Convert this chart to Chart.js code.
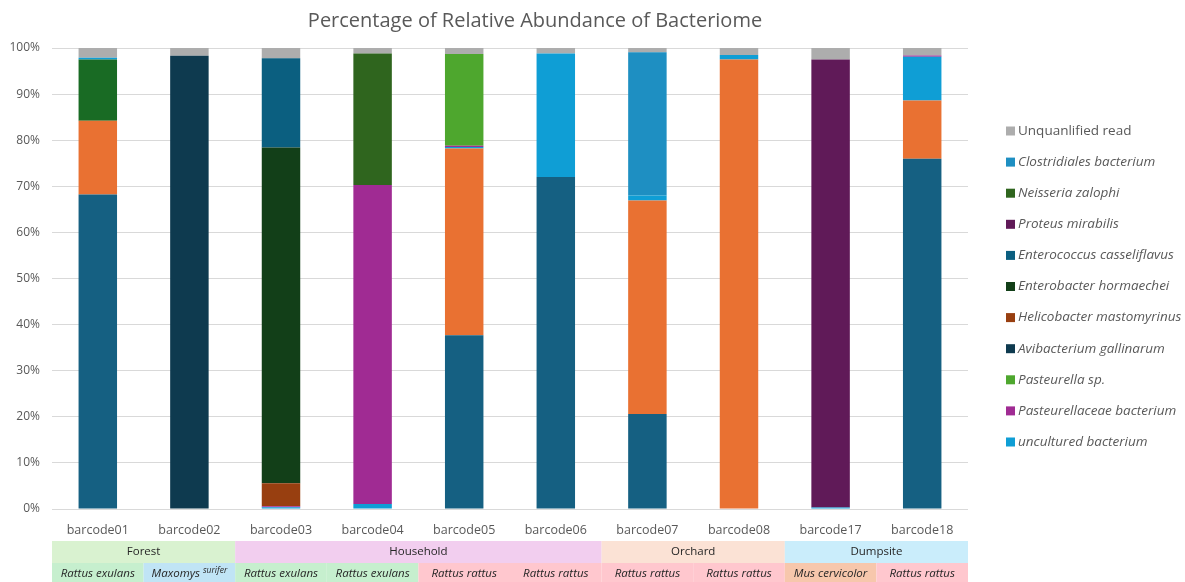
<!DOCTYPE html>
<html>
<head>
<meta charset="utf-8">
<script src="https://cdn.jsdelivr.net/npm/chart.js@4.4.1/dist/chart.umd.min.js"></script>
<style>
  html, body { margin: 0; padding: 0; background: #fff; }
  #wrap { width: 1185px; height: 582px; position: relative; }
</style>
</head>
<body>
<div id="wrap"><canvas id="abundance-chart"></canvas></div>
<script>
const barcodes = ['barcode01', 'barcode02', 'barcode03', 'barcode04', 'barcode05',
                  'barcode06', 'barcode07', 'barcode08', 'barcode17', 'barcode18'];

// series, stacked from the bottom up (first three are cut off from the legend)
const taxonA = [68.2, 0, 0, 0, 37.7, 72.0, 20.6, 0, 0, 76.0];
const taxonB = [16.0, 0, 0, 0, 40.5, 0, 46.3, 97.5, 0, 12.6];
const taxonC = [13.3, 0, 0, 0, 0, 0, 0, 0, 0, 0];
const uncultured = [0.4, 0, 0.4, 1.1, 0.3, 26.8, 1.1, 1.0, 0.3, 9.5];
const pasteurellaceae = [0, 0, 0.2, 69.2, 0.3, 0, 0, 0, 0, 0.3];
const pasteurella = [0, 0, 0, 0, 19.9, 0, 0, 0, 0, 0];
const avibacterium = [0, 98.3, 0, 0, 0, 0, 0, 0, 0, 0];
const helicobacter = [0, 0, 5.0, 0, 0, 0, 0, 0, 0, 0];
const enterobacter = [0, 0, 72.8, 0, 0, 0, 0, 0, 0, 0];
const enterococcus = [0, 0, 19.4, 0, 0, 0, 0, 0, 0, 0];
const proteus = [0, 0, 0, 0, 0, 0, 0, 0, 97.2, 0];
const neisseria = [0, 0, 0, 28.5, 0, 0, 0, 0, 0, 0];
const clostridiales = [0, 0, 0, 0, 0, 0, 31.1, 0, 0, 0];
const unquantified = [2.1, 1.7, 2.2, 1.2, 1.3, 1.2, 0.9, 1.5, 2.5, 1.6];

const habitats = ['Forest', 'Household', 'Orchard', 'Dumpsite'];
const habitatSpans = [2, 4, 2, 2];
const habitatColors = ['#D9F2D0', '#F2CEEF', '#FBE2D5', '#CAEDFB'];
const hosts = ['Rattus exulans', 'Maxomys|surifer', 'Rattus exulans', 'Rattus exulans', 'Rattus rattus',
               'Rattus rattus', 'Rattus rattus', 'Rattus rattus', 'Mus cervicolor', 'Rattus rattus'];
const hostColors = ['#C6EFCE', '#C0E4F5', '#C6EFCE', '#C6EFCE', '#FFC7CE',
                    '#FFC7CE', '#FFC7CE', '#FFC7CE', '#F7C7AC', '#FFC7CE'];

const series = [
    { label: 'Taxon A', data: taxonA, color: '#156082', legend: false },
    { label: 'Taxon B', data: taxonB, color: '#E97132', legend: false },
    { label: 'Taxon C', data: taxonC, color: '#196B24', legend: false },
    { label: 'uncultured bacterium', data: uncultured, color: '#0F9ED5', legend: true },
    { label: 'Pasteurellaceae bacterium', data: pasteurellaceae, color: '#A02B93', legend: true },
    { label: 'Pasteurella sp.', data: pasteurella, color: '#4EA72E', legend: true },
    { label: 'Avibacterium gallinarum', data: avibacterium, color: '#0E3A4F', legend: true },
    { label: 'Helicobacter mastomyrinus', data: helicobacter, color: '#983F10', legend: true },
    { label: 'Enterobacter hormaechei', data: enterobacter, color: '#123F18', legend: true },
    { label: 'Enterococcus casseliflavus', data: enterococcus, color: '#0B5F80', legend: true },
    { label: 'Proteus mirabilis', data: proteus, color: '#601A58', legend: true },
    { label: 'Neisseria zalophi', data: neisseria, color: '#2F651E', legend: true },
    { label: 'Clostridiales bacterium', data: clostridiales, color: '#1E8FC2', legend: true },
    { label: 'Unquanlified read', data: unquantified, color: '#ADADAD', legend: true, upright: true }
];

const FONT = '"Open Sans", "DejaVu Sans", sans-serif';
const TEXT_GREY = '#595959';

// title, legend and the habitat/host table under the axis
const extrasPlugin = {
    id: 'extras',
    afterDraw(chart) {
        const ctx = chart.ctx;
        const area = chart.chartArea;
        const x = chart.scales.x;

        ctx.save();
        ctx.fillStyle = TEXT_GREY;
        ctx.font = '20px ' + FONT;
        ctx.textAlign = 'center';
        ctx.textBaseline = 'middle';
        ctx.fillText('Percentage of Relative Abundance of Bacteriome', 535, 21);

        // legend, top of stack first
        const items = series.filter(s => s.legend).reverse();
        const step = 31.1;
        const top = 131;
        const boxX = area.right + 38;
        items.forEach((s, i) => {
            const y = top + i * step;
            ctx.fillStyle = s.color;
            ctx.fillRect(boxX, y - 4.5, 9, 9);
            ctx.fillStyle = TEXT_GREY;
            ctx.font = (s.upright ? '' : 'italic ') + '13.5px ' + FONT;
            ctx.textAlign = 'left';
            ctx.fillText(s.label, boxX + 12, y);
        });

        // table
        const half = (x.getPixelForValue(1) - x.getPixelForValue(0)) / 2;
        const row1Top = area.bottom + 32;
        const row1H = 22;
        const row2Top = row1Top + row1H;
        const row2H = 20;
        ctx.textAlign = 'center';
        let start = 0;
        habitats.forEach((h, i) => {
            const end = start + habitatSpans[i] - 1;
            const l = x.getPixelForValue(start) - half;
            const r = x.getPixelForValue(end) + half;
            ctx.fillStyle = habitatColors[i];
            ctx.fillRect(l, row1Top, r - l, row1H);
            ctx.fillStyle = '#262626';
            ctx.font = '11.5px ' + FONT;
            ctx.fillText(h, (l + r) / 2, row1Top + row1H / 2);
            start = end + 1;
        });
        hosts.forEach((h, i) => {
            const c = x.getPixelForValue(i);
            ctx.fillStyle = hostColors[i];
            ctx.fillRect(c - half, row2Top, half * 2, row2H);
            ctx.fillStyle = '#262626';
            const ty = row2Top + row2H / 2 + 1;
            if (h.includes('|')) {
                const [genus, sp] = h.split('|');
                ctx.font = 'italic 11.5px ' + FONT;
                const gw = ctx.measureText(genus + ' ').width;
                ctx.font = 'italic 8.5px ' + FONT;
                const sw = ctx.measureText(sp).width;
                const left = c - (gw + sw) / 2;
                ctx.textAlign = 'left';
                ctx.font = 'italic 11.5px ' + FONT;
                ctx.fillText(genus, left, ty);
                ctx.font = 'italic 8.5px ' + FONT;
                ctx.fillText(sp, left + gw, ty - 3);
                ctx.textAlign = 'center';
            } else {
                ctx.font = 'italic 11.5px ' + FONT;
                ctx.fillText(h, c, ty);
            }
        });
        ctx.restore();
    }
};

function createChart() {
    const ctx = document.getElementById('abundance-chart').getContext('2d');

    new Chart(ctx, {
        type: 'bar',
        data: {
            labels: barcodes,
            datasets: series.map(s => ({
                label: s.label,
                data: s.data,
                backgroundColor: s.color,
                borderWidth: 0
            }))
        },
        options: {
            responsive: true,
            maintainAspectRatio: false,
            animation: false,
            categoryPercentage: 1,
            barPercentage: 0.42,
            layout: {
                padding: { top: 48, right: 217, bottom: 43, left: 0 }
            },
            plugins: {
                legend: { display: false },
                title: { display: false },
                tooltip: { enabled: true }
            },
            scales: {
                x: {
                    stacked: true,
                    grid: { display: false },
                    border: { display: false },
                    ticks: {
                        color: TEXT_GREY,
                        font: { family: FONT, size: 12.5 },
                        padding: 6
                    },
                    afterFit(scale) { scale.height = 30; }
                },
                y: {
                    stacked: true,
                    min: 0,
                    max: 100,
                    grid: { color: '#D9D9D9', drawTicks: false },
                    border: { display: false },
                    ticks: {
                        stepSize: 10,
                        color: TEXT_GREY,
                        font: { family: FONT, size: 12 },
                        padding: 12,
                        callback: v => v + '%'
                    },
                    afterFit(scale) { scale.width = 52; }
                }
            }
        },
        plugins: [extrasPlugin]
    });
}

document.addEventListener('DOMContentLoaded', () => {
    createChart();
});
</script>
</body>
</html>
